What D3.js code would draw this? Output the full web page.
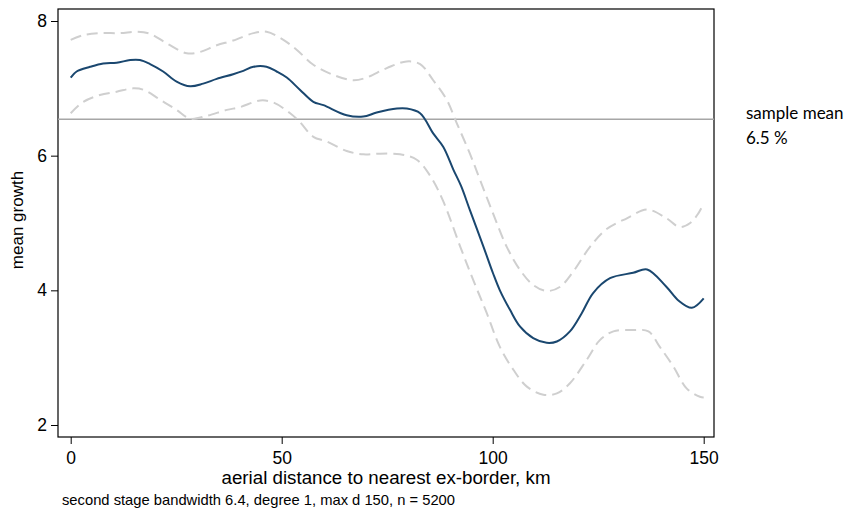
<!DOCTYPE html>
<html>
<head>
<meta charset="utf-8">
<script src="https://cdn.jsdelivr.net/npm/d3@7"></script>
<style>
  html, body { margin: 0; padding: 0; background: #fff; }
  svg { display: block; }
</style>
</head>
<body>
<svg id="chart" width="853" height="515"></svg>
<script>
// Local-linear fit of mean growth against distance to the nearest ex-border
const centerDist = [0, 1.4, 4.6, 7.7, 10.9, 14.1, 16.4, 18.8, 21.9, 25.1, 28.3, 31.4, 34.6, 38.5, 40.9, 43.3, 46.4, 48.8, 51.2, 54.3, 57.5, 59.9, 65.4, 69.3, 72.5, 77.3, 79.6, 82.8, 85.9, 88.3, 90.7, 92.5, 94.6, 97.8, 100.1, 101.7, 104.1, 106.5, 109.6, 112.8, 115.2, 118.3, 121.1, 123.8, 127.8, 133.3, 136.6, 141.2, 144.0, 147.2, 150];
const centerMean = [7.16, 7.25, 7.32, 7.37, 7.38, 7.42, 7.42, 7.36, 7.25, 7.10, 7.03, 7.07, 7.14, 7.21, 7.26, 7.32, 7.32, 7.25, 7.16, 6.98, 6.80, 6.75, 6.60, 6.58, 6.64, 6.70, 6.70, 6.63, 6.33, 6.13, 5.79, 5.55, 5.19, 4.65, 4.25, 4.00, 3.71, 3.46, 3.29, 3.22, 3.24, 3.39, 3.66, 3.96, 4.18, 4.26, 4.31, 4.05, 3.85, 3.74, 3.88];

// Upper confidence bound
const upperDist = [0, 3.0, 6.9, 11.7, 15.6, 18.8, 22.7, 27.5, 30.6, 34.6, 38.5, 43.3, 46.4, 50.4, 53.6, 57.5, 62.2, 67.0, 70.1, 74.9, 79.6, 82.8, 85.9, 89.1, 91.5, 94.6, 97.0, 100.1, 103.3, 106.5, 109.6, 112.8, 115.9, 119.1, 123.1, 127.0, 131.8, 136.6, 141.2, 144.3, 146.8, 148.7, 150];
const upperCI = [7.72, 7.79, 7.82, 7.82, 7.84, 7.81, 7.67, 7.52, 7.54, 7.64, 7.71, 7.82, 7.84, 7.72, 7.57, 7.35, 7.20, 7.12, 7.16, 7.30, 7.40, 7.36, 7.12, 6.83, 6.48, 6.03, 5.64, 5.14, 4.65, 4.30, 4.08, 3.99, 4.05, 4.28, 4.65, 4.91, 5.07, 5.20, 5.07, 4.94, 5.00, 5.14, 5.29];

// Lower confidence bound
const lowerDist = [0, 3.0, 6.9, 10.9, 14.8, 17.2, 21.2, 25.1, 28.3, 32.2, 37.0, 40.1, 44.9, 48.0, 52.0, 54.3, 57.5, 60.7, 65.4, 69.3, 73.3, 78.0, 82.0, 85.3, 88.3, 92.3, 95.4, 98.6, 101.7, 104.9, 108.1, 112.0, 115.2, 118.3, 122.3, 125.4, 128.6, 133.3, 136.9, 139.6, 142.8, 146.0, 149.1, 150];
const lowerCI = [6.63, 6.80, 6.90, 6.95, 7.00, 6.98, 6.83, 6.68, 6.55, 6.59, 6.68, 6.72, 6.82, 6.79, 6.63, 6.50, 6.28, 6.21, 6.07, 6.02, 6.03, 6.02, 5.94, 5.69, 5.32, 4.65, 4.15, 3.66, 3.16, 2.82, 2.57, 2.45, 2.47, 2.62, 2.97, 3.26, 3.39, 3.41, 3.39, 3.16, 2.87, 2.54, 2.42, 2.41];

const sampleMean = 6.54;
const xTicks = [0, 50, 100, 150];
const yTicks = [2, 4, 6, 8];

const svg = d3.select("#chart");
const plot = { left: 58, right: 714, top: 9, bottom: 437 };

const x = d3.scaleLinear().domain([0, 150]).range([70.7, 703.7]);
const y = d3.scaleLinear().domain([2, 8]).range([425, 21]);

const toPts = (xs, ys) => xs.map((d, i) => [d, ys[i]]);
const line = d3.line().x(d => x(d[0])).y(d => y(d[1])).curve(d3.curveCatmullRom.alpha(0.5));

// plot region frame
svg.append("rect")
  .attr("x", plot.left).attr("y", plot.top)
  .attr("width", plot.right - plot.left).attr("height", plot.bottom - plot.top)
  .attr("fill", "none").attr("stroke", "#000").attr("stroke-width", 1.2);

// sample mean reference line
svg.append("line")
  .attr("x1", plot.left).attr("x2", plot.right)
  .attr("y1", y(sampleMean)).attr("y2", y(sampleMean))
  .attr("stroke", "#a6a6a6").attr("stroke-width", 1.6);

// confidence bands
[toPts(upperDist, upperCI), toPts(lowerDist, lowerCI)].forEach(pts => {
  svg.append("path").datum(pts)
    .attr("d", line)
    .attr("fill", "none")
    .attr("stroke", "#cfcfcf")
    .attr("stroke-width", 2)
    .attr("stroke-dasharray", "11,6");
});

// fitted mean
svg.append("path").datum(toPts(centerDist, centerMean))
  .attr("d", line)
  .attr("fill", "none")
  .attr("stroke", "#1a476f")
  .attr("stroke-width", 2);

// axes
const font = "'Liberation Sans', Arial, Helvetica, sans-serif";

const yAxis = svg.append("g")
  .attr("transform", `translate(${plot.left},0)`)
  .call(d3.axisLeft(y).tickValues(yTicks).tickSize(7).tickPadding(4).tickFormat(d3.format("d")));
yAxis.select(".domain").remove();
yAxis.selectAll("line").attr("stroke", "#000").attr("stroke-width", 1);
yAxis.selectAll("text").attr("font-family", font).attr("font-size", 17.5).attr("fill", "#000");

const xAxis = svg.append("g")
  .attr("transform", `translate(0,${plot.bottom})`)
  .call(d3.axisBottom(x).tickValues(xTicks).tickSize(7).tickPadding(8).tickFormat(d3.format("d")));
xAxis.select(".domain").remove();
xAxis.selectAll("line").attr("stroke", "#000").attr("stroke-width", 1);
xAxis.selectAll("text").attr("font-family", font).attr("font-size", 17.5).attr("fill", "#000");

// titles
svg.append("text")
  .attr("x", (plot.left + plot.right) / 2).attr("y", 483.5)
  .attr("text-anchor", "middle")
  .attr("font-family", font).attr("font-size", 17.5)
  .attr("textLength", 329).attr("lengthAdjust", "spacingAndGlyphs")
  .text("aerial distance to nearest ex-border, km");

svg.append("text")
  .attr("transform", `translate(22.5,${(plot.top + plot.bottom) / 2 - 3}) rotate(-90)`)
  .attr("text-anchor", "middle")
  .attr("font-family", font).attr("font-size", 17)
  .text("mean growth");

svg.append("text")
  .attr("x", 62).attr("y", 505)
  .attr("font-family", font).attr("font-size", 14.2)
  .attr("textLength", 393).attr("lengthAdjust", "spacingAndGlyphs")
  .text("second stage bandwidth 6.4, degree 1, max d 150, n = 5200");

// sample mean annotation
const noteFont = "Lato, 'Open Sans', sans-serif";
svg.append("text")
  .attr("x", 746).attr("y", 119)
  .attr("font-family", noteFont).attr("font-size", 17)
  .text("sample mean");
svg.append("text")
  .attr("x", 746).attr("y", 144)
  .attr("font-family", noteFont).attr("font-size", 17)
  .text("6.5 %");
</script>
</body>
</html>
